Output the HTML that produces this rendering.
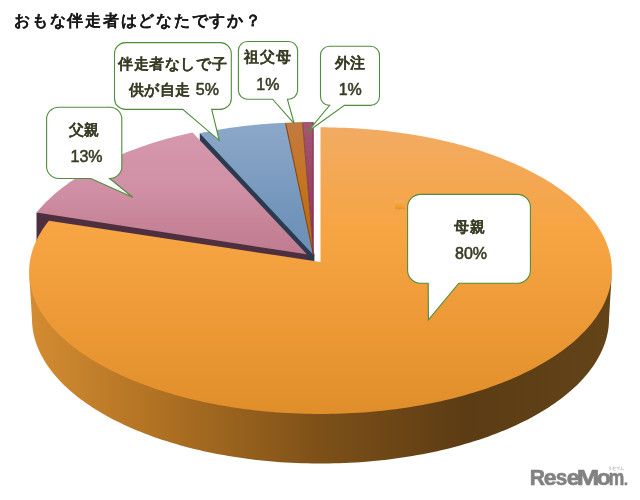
<!DOCTYPE html>
<html><head><meta charset="utf-8"><style>
html,body{margin:0;padding:0;background:#fff;width:640px;height:500px;overflow:hidden}
svg{display:block;will-change:transform}
.lbl{font-family:"Liberation Sans",sans-serif;font-size:15px;font-weight:bold;fill:#393C24;text-anchor:middle;dominant-baseline:central;letter-spacing:0.6px;stroke:#393C24;stroke-width:0.05px}
.num{font-weight:normal;font-size:16px;letter-spacing:0;stroke:#393C24;stroke-width:0.55px}
.title{font-family:"Liberation Sans",sans-serif;font-size:15.5px;font-weight:bold;fill:#1A1A1A;letter-spacing:1.75px;stroke:#1A1A1A;stroke-width:0.1px}
.logo{font-family:"Liberation Sans",sans-serif;font-size:22px;font-weight:bold;fill:#828282;stroke:#828282;stroke-width:0.6px}
.kana{font-family:"Liberation Sans",sans-serif;font-size:5px;fill:#888}
</style></head><body>
<svg width="640" height="500" viewBox="0 0 640 500">
<defs>
<linearGradient id="gOrTop" x1="0" y1="128" x2="0" y2="414" gradientUnits="userSpaceOnUse">
<stop offset="0" stop-color="#F1AB62"/><stop offset="0.37" stop-color="#F7A442"/><stop offset="0.95" stop-color="#E2902C"/><stop offset="1" stop-color="#E08E2B"/></linearGradient>
<linearGradient id="gOrSide" x1="29" y1="0" x2="612" y2="0" gradientUnits="userSpaceOnUse">
<stop offset="0" stop-color="#D48C32"/><stop offset="0.233" stop-color="#AE7022"/><stop offset="0.5" stop-color="#7D5018"/><stop offset="0.75" stop-color="#5C3C14"/><stop offset="1" stop-color="#634318"/></linearGradient>
<linearGradient id="gPk" x1="0" y1="130" x2="0" y2="255" gradientUnits="userSpaceOnUse">
<stop offset="0" stop-color="#D598AC"/><stop offset="0.48" stop-color="#D08FA5"/><stop offset="0.8" stop-color="#C58296"/><stop offset="1" stop-color="#BF7A90"/></linearGradient>
<linearGradient id="gBl" x1="0" y1="122" x2="0" y2="255" gradientUnits="userSpaceOnUse">
<stop offset="0" stop-color="#8BA7C9"/><stop offset="0.135" stop-color="#88A4C6"/><stop offset="0.73" stop-color="#7194BA"/><stop offset="1" stop-color="#6B8FB6"/></linearGradient>
<linearGradient id="gBr" x1="0" y1="122" x2="0" y2="255" gradientUnits="userSpaceOnUse">
<stop offset="0" stop-color="#C27A40"/><stop offset="0.4" stop-color="#C67524"/><stop offset="1" stop-color="#BA690A"/></linearGradient>
<linearGradient id="gPu" x1="0" y1="122" x2="0" y2="255" gradientUnits="userSpaceOnUse">
<stop offset="0" stop-color="#A45772"/><stop offset="1" stop-color="#8E2F5A"/></linearGradient>
<linearGradient id="gMini" x1="0" y1="0" x2="0" y2="1"><stop offset="0" stop-color="#F2AE68"/><stop offset="0.5" stop-color="#F7A334"/><stop offset="1" stop-color="#E6922A"/></linearGradient>
</defs>
<text x="14" y="26" class="title">おもな伴走者はどなたですか？</text>
<path d="M314.50,254.00 L202.88,134.56 L199.73,133.27 L199.73,176.82 L313.50,301.20 Z" fill="#2B3B4F"/>
<path d="M306.80,252.80 L40.55,211.73 L36.50,212.60 L36.50,258.80 L306.80,300.50 Z" fill="#4E2F40"/>
<path d="M313.50,255.00 L199.73,133.27 L204.30,132.34 L208.90,131.46 L213.53,130.61 L218.18,129.80 L222.86,129.03 L227.57,128.30 L232.30,127.61 L237.05,126.96 L241.82,126.35 L246.61,125.77 L251.41,125.24 L256.24,124.75 L261.07,124.29 L265.93,123.88 L270.79,123.51 L275.67,123.18 L280.55,122.89 L285.45,122.63 Z" fill="url(#gBl)"/>
<path d="M313.50,255.00 L285.45,122.63 L291.14,122.39 L296.84,122.21 L302.55,122.07 Z" fill="url(#gBr)"/>
<path d="M313.50,255.00 L302.55,122.07 L308.02,122.00 L313.50,121.97 Z" fill="url(#gPu)"/>
<path d="M285.58,123.25 L313.50,255.00" stroke="#7E4512" stroke-width="1.1" fill="none"/>
<path d="M302.60,122.70 L313.50,255.00" stroke="#7A3A2E" stroke-width="0.8" fill="none"/>
<path d="M313.10,122.47 L313.10,255.00" stroke="#86284C" stroke-width="0.9" fill="none"/>
<path d="M306.80,254.30 L36.50,212.60 L38.39,210.31 L40.36,208.03 L42.40,205.78 L44.51,203.54 L46.70,201.33 L48.96,199.13 L51.30,196.96 L53.70,194.80 L56.18,192.67 L58.72,190.57 L61.34,188.48 L64.02,186.42 L66.77,184.38 L69.58,182.37 L72.46,180.39 L75.40,178.42 L78.41,176.49 L81.47,174.58 L84.60,172.70 L87.79,170.84 L91.03,169.02 L94.34,167.22 L97.70,165.45 L101.11,163.71 L104.58,161.99 L108.11,160.31 L111.69,158.66 L115.32,157.04 L118.99,155.45 L122.72,153.89 L126.50,152.36 L130.32,150.86 L134.20,149.39 L138.11,147.96 L142.07,146.56 L146.07,145.19 L150.12,143.86 L154.20,142.56 L158.32,141.29 L162.49,140.06 L166.69,138.86 L170.92,137.70 L175.19,136.57 L179.50,135.47 L183.83,134.41 L188.20,133.39 L192.60,132.40 Z" fill="url(#gPk)"/>
<path d="M611.93,270.64 L611.21,278.18 L610.81,280.69 L610.32,283.20 L609.73,285.71 L609.06,288.21 L608.29,290.72 L607.44,293.21 L606.49,295.70 L605.45,298.19 L604.33,300.67 L603.11,303.14 L601.80,305.60 L600.40,308.06 L598.91,310.50 L597.33,312.93 L595.67,315.35 L593.91,317.76 L592.06,320.16 L590.13,322.54 L588.10,324.90 L585.99,327.25 L583.79,329.58 L581.51,331.90 L579.14,334.19 L576.68,336.47 L574.14,338.73 L571.51,340.96 L568.80,343.18 L566.00,345.37 L563.12,347.54 L560.16,349.69 L557.12,351.81 L554.00,353.90 L550.80,355.97 L547.52,358.01 L544.17,360.02 L540.73,362.01 L537.22,363.96 L533.64,365.89 L529.99,367.78 L526.26,369.64 L522.46,371.47 L518.59,373.27 L514.65,375.03 L510.64,376.76 L506.57,378.45 L502.43,380.11 L498.23,381.73 L493.96,383.31 L489.64,384.86 L485.25,386.36 L480.81,387.83 L476.31,389.26 L471.75,390.65 L467.14,392.00 L462.48,393.30 L457.77,394.57 L453.01,395.79 L448.20,396.97 L443.35,398.11 L438.45,399.20 L433.51,400.25 L428.53,401.25 L423.51,402.21 L418.45,403.13 L413.36,403.99 L408.23,404.81 L403.08,405.59 L397.89,406.32 L392.68,407.00 L387.43,407.63 L382.17,408.22 L376.88,408.76 L371.57,409.25 L366.25,409.69 L360.91,410.08 L355.55,410.42 L350.18,410.72 L344.80,410.96 L339.41,411.16 L334.01,411.31 L328.61,411.41 L323.20,411.46 L317.80,411.46 L312.39,411.41 L306.99,411.31 L301.59,411.16 L296.20,410.96 L290.82,410.72 L285.45,410.42 L280.09,410.08 L274.75,409.69 L269.43,409.25 L264.12,408.76 L258.83,408.22 L253.57,407.63 L248.32,407.00 L243.11,406.32 L237.92,405.59 L232.77,404.81 L227.64,403.99 L222.55,403.13 L217.49,402.21 L212.47,401.25 L207.49,400.25 L202.55,399.20 L197.65,398.11 L192.80,396.97 L187.99,395.79 L183.23,394.57 L178.52,393.30 L173.86,392.00 L169.25,390.65 L164.69,389.26 L160.19,387.83 L155.75,386.36 L151.36,384.86 L147.04,383.31 L142.77,381.73 L138.57,380.11 L134.43,378.45 L130.36,376.76 L126.35,375.03 L122.41,373.27 L118.54,371.47 L114.74,369.64 L111.01,367.78 L107.36,365.89 L103.78,363.96 L100.27,362.01 L96.83,360.02 L93.48,358.01 L90.20,355.97 L87.00,353.90 L83.88,351.81 L80.84,349.69 L77.88,347.54 L75.00,345.37 L72.20,343.18 L69.49,340.96 L66.86,338.73 L64.32,336.47 L61.86,334.19 L59.49,331.90 L57.21,329.58 L55.01,327.25 L52.90,324.90 L50.87,322.54 L48.94,320.16 L47.09,317.76 L45.33,315.35 L43.67,312.93 L42.09,310.50 L40.60,308.06 L39.20,305.60 L37.89,303.14 L36.67,300.67 L35.55,298.19 L34.51,295.70 L33.56,293.21 L32.71,290.72 L31.94,288.21 L31.27,285.71 L30.68,283.20 L30.19,280.69 L29.79,278.18 L29.07,271.96 L31.98,318.73 L32.03,321.27 L32.16,323.80 L32.38,326.34 L32.69,328.88 L33.09,331.41 L33.58,333.95 L34.16,336.48 L34.83,339.01 L35.59,341.54 L36.43,344.06 L37.37,346.58 L38.40,349.09 L39.51,351.60 L40.72,354.09 L42.02,356.58 L43.40,359.06 L44.87,361.53 L46.44,363.99 L48.09,366.43 L49.83,368.86 L51.66,371.28 L53.57,373.69 L55.58,376.08 L57.67,378.45 L59.84,380.81 L62.11,383.14 L64.45,385.46 L66.89,387.76 L69.40,390.04 L72.01,392.30 L74.69,394.54 L77.46,396.76 L80.31,398.95 L83.24,401.11 L86.25,403.26 L89.34,405.37 L92.51,407.46 L95.75,409.52 L99.07,411.56 L102.47,413.56 L105.95,415.54 L109.49,417.48 L113.11,419.39 L116.81,421.27 L120.57,423.12 L124.40,424.94 L128.30,426.72 L132.27,428.46 L136.30,430.17 L140.40,431.85 L144.56,433.48 L148.78,435.08 L153.06,436.65 L157.40,438.17 L161.80,439.65 L166.26,441.09 L170.77,442.50 L175.33,443.86 L179.94,445.18 L184.61,446.46 L189.32,447.69 L194.08,448.88 L198.89,450.03 L203.73,451.14 L208.62,452.20 L213.56,453.21 L218.52,454.18 L223.53,455.10 L228.57,455.98 L233.65,456.81 L238.75,457.59 L243.89,458.33 L249.05,459.01 L254.24,459.65 L259.45,460.25 L264.68,460.79 L269.94,461.28 L275.21,461.73 L280.50,462.13 L285.80,462.47 L291.12,462.77 L296.45,463.02 L301.78,463.22 L307.13,463.37 L312.47,463.47 L317.82,463.52 L323.18,463.52 L328.53,463.47 L333.87,463.37 L339.22,463.22 L344.55,463.02 L349.88,462.77 L355.20,462.47 L360.50,462.13 L365.79,461.73 L371.06,461.28 L376.32,460.79 L381.55,460.25 L386.76,459.65 L391.95,459.01 L397.11,458.33 L402.25,457.59 L407.35,456.81 L412.43,455.98 L417.47,455.10 L422.48,454.18 L427.44,453.21 L432.38,452.20 L437.27,451.14 L442.11,450.03 L446.92,448.88 L451.68,447.69 L456.39,446.46 L461.06,445.18 L465.67,443.86 L470.23,442.50 L474.74,441.09 L479.20,439.65 L483.60,438.17 L487.94,436.65 L492.22,435.08 L496.44,433.48 L500.60,431.85 L504.70,430.17 L508.73,428.46 L512.70,426.72 L516.60,424.94 L520.43,423.12 L524.19,421.27 L527.89,419.39 L531.51,417.48 L535.05,415.54 L538.53,413.56 L541.93,411.56 L545.25,409.52 L548.49,407.46 L551.66,405.37 L554.75,403.26 L557.76,401.11 L560.69,398.95 L563.54,396.76 L566.31,394.54 L568.99,392.30 L571.60,390.04 L574.11,387.76 L576.55,385.46 L578.89,383.14 L581.16,380.81 L583.33,378.45 L585.42,376.08 L587.43,373.69 L589.34,371.28 L591.17,368.86 L592.91,366.43 L594.56,363.99 L596.13,361.53 L597.60,359.06 L598.98,356.58 L600.28,354.09 L601.49,351.60 L602.60,349.09 L603.63,346.58 L604.57,344.06 L605.41,341.54 L606.17,339.01 L606.84,336.48 L607.42,333.95 L607.91,331.41 L608.31,328.88 L608.62,326.34 L608.84,323.80 L608.97,321.27 L609.02,318.73 Z" fill="url(#gOrSide)"/>
<path d="M320.50,262.00 L320.50,127.32 L325.29,127.34 L330.08,127.40 L334.86,127.50 L339.64,127.63 L344.42,127.80 L349.19,128.02 L353.95,128.27 L358.70,128.56 L363.45,128.89 L368.18,129.25 L372.90,129.66 L377.61,130.10 L382.31,130.58 L386.99,131.10 L391.65,131.66 L396.29,132.25 L400.91,132.89 L405.52,133.56 L410.10,134.26 L414.66,135.01 L419.19,135.79 L423.70,136.61 L428.19,137.46 L432.64,138.36 L437.07,139.29 L441.47,140.25 L445.83,141.25 L450.17,142.29 L454.47,143.36 L458.73,144.47 L462.96,145.61 L467.15,146.79 L471.31,148.00 L475.42,149.25 L479.50,150.53 L483.53,151.85 L487.52,153.19 L491.47,154.58 L495.37,155.99 L499.23,157.44 L503.04,158.92 L506.80,160.43 L510.51,161.97 L514.18,163.55 L517.79,165.15 L521.34,166.79 L524.85,168.46 L528.30,170.15 L531.69,171.88 L535.03,173.63 L538.31,175.42 L541.53,177.23 L544.69,179.07 L547.79,180.94 L550.83,182.83 L553.80,184.75 L556.71,186.70 L559.56,188.67 L562.34,190.67 L565.05,192.69 L567.70,194.74 L570.28,196.81 L572.79,198.90 L575.23,201.01 L577.59,203.15 L579.89,205.31 L582.11,207.49 L584.26,209.69 L586.33,211.91 L588.33,214.15 L590.26,216.40 L592.10,218.68 L593.87,220.97 L595.56,223.28 L597.17,225.61 L598.70,227.95 L600.15,230.31 L601.52,232.68 L602.81,235.06 L604.01,237.46 L605.13,239.87 L606.17,242.29 L607.13,244.72 L607.99,247.17 L608.78,249.62 L609.48,252.08 L610.09,254.55 L610.61,257.03 L611.05,259.51 L611.40,262.00 L611.66,264.49 L611.84,266.99 L611.92,269.50 L611.92,272.00 L611.82,274.51 L611.64,277.02 L611.37,279.53 L611.01,282.04 L610.55,284.55 L610.01,287.06 L609.38,289.56 L608.66,292.07 L607.84,294.56 L606.94,297.06 L605.94,299.55 L604.86,302.03 L603.68,304.50 L602.42,306.97 L601.06,309.42 L599.61,311.87 L598.08,314.31 L596.45,316.73 L594.74,319.14 L592.93,321.54 L591.04,323.93 L589.06,326.30 L586.99,328.65 L584.83,330.99 L582.59,333.32 L580.26,335.62 L577.84,337.90 L575.34,340.17 L572.75,342.42 L570.08,344.64 L567.33,346.84 L564.49,349.02 L561.57,351.18 L558.57,353.31 L555.49,355.41 L552.33,357.49 L549.09,359.54 L545.77,361.57 L542.38,363.57 L538.90,365.53 L535.36,367.47 L531.74,369.38 L528.05,371.26 L524.28,373.10 L520.45,374.91 L516.54,376.69 L512.57,378.43 L508.53,380.14 L504.43,381.82 L500.26,383.45 L496.02,385.05 L491.73,386.62 L487.37,388.14 L482.96,389.63 L478.49,391.08 L473.96,392.48 L469.38,393.85 L464.75,395.18 L460.06,396.46 L455.33,397.70 L450.55,398.90 L445.72,400.06 L440.84,401.17 L435.93,402.24 L430.97,403.27 L425.97,404.25 L420.93,405.18 L415.86,406.07 L410.76,406.92 L405.62,407.71 L400.45,408.47 L395.25,409.17 L390.02,409.83 L384.77,410.43 L379.50,411.00 L374.20,411.51 L368.89,411.97 L363.56,412.39 L358.21,412.76 L352.85,413.08 L347.47,413.35 L342.09,413.57 L336.70,413.74 L331.30,413.86 L325.90,413.94 L320.50,413.96 L315.10,413.94 L309.70,413.86 L304.30,413.74 L298.91,413.57 L293.53,413.35 L288.15,413.08 L282.79,412.76 L277.44,412.39 L272.11,411.97 L266.80,411.51 L261.50,411.00 L256.23,410.43 L250.98,409.83 L245.75,409.17 L240.55,408.47 L235.38,407.71 L230.24,406.92 L225.14,406.07 L220.07,405.18 L215.03,404.25 L210.03,403.27 L205.07,402.24 L200.16,401.17 L195.28,400.06 L190.45,398.90 L185.67,397.70 L180.94,396.46 L176.25,395.18 L171.62,393.85 L167.04,392.48 L162.51,391.08 L158.04,389.63 L153.63,388.14 L149.27,386.62 L144.98,385.05 L140.74,383.45 L136.57,381.82 L132.47,380.14 L128.43,378.43 L124.46,376.69 L120.55,374.91 L116.72,373.10 L112.95,371.26 L109.26,369.38 L105.64,367.47 L102.10,365.57 L98.62,363.63 L95.23,361.66 L91.91,359.67 L88.67,357.65 L85.51,355.60 L82.43,353.53 L79.43,351.43 L76.51,349.31 L73.67,347.16 L70.92,344.99 L68.25,342.80 L65.66,340.58 L63.16,338.35 L60.74,336.10 L58.41,333.82 L56.17,331.53 L54.01,329.23 L51.94,326.90 L49.96,324.56 L48.07,322.21 L46.26,319.84 L44.55,317.46 L42.92,315.07 L41.39,312.66 L39.94,310.25 L38.58,307.82 L37.32,305.39 L36.14,302.95 L35.06,300.50 L34.06,298.04 L33.16,295.58 L32.34,293.11 L31.62,290.64 L30.99,288.17 L30.45,285.69 L29.99,283.22 L29.63,280.74 L29.36,278.26 L29.18,275.78 L29.08,273.30 L29.08,270.83 L29.16,268.36 L29.34,265.89 L29.60,263.43 L29.95,260.97 L30.39,258.52 L30.91,256.07 L31.52,253.64 L32.22,251.21 L33.01,248.79 L33.87,246.37 L34.83,243.97 L35.87,241.58 L36.99,239.21 L38.19,236.84 L39.48,234.49 L40.85,232.15 L42.30,229.82 L43.83,227.51 L45.44,225.22 L47.13,222.94 L48.90,220.68 Z" fill="url(#gOrTop)"/>
<rect x="395.1" y="200.4" width="9.6" height="8.9" fill="url(#gMini)"/>
<path d="M58.60,107.20 H109.80 A12,12 0 0 1 121.80,119.20 V166.50 A12,12 0 0 1 109.80,178.50 H109.60 L132.70,197.30 L90.90,178.50 H58.60 A12,12 0 0 1 46.60,166.50 V119.20 A12,12 0 0 1 58.60,107.20 Z" fill="#fff" stroke="#4F8D3B" stroke-width="1.1"/>
<text x="84.3" y="129.5" class="lbl">父親</text>
<text x="86.5" y="156" class="lbl"><tspan class="num">13%</tspan></text>
<path d="M125.50,42.60 H220.30 A11,11 0 0 1 231.30,53.60 V98.40 A11,11 0 0 1 220.30,109.40 H211.70 L219.20,140.30 L182.70,109.40 H125.50 A11,11 0 0 1 114.50,98.40 V53.60 A11,11 0 0 1 125.50,42.60 Z" fill="#fff" stroke="#4F8D3B" stroke-width="1.1"/>
<text x="172.6" y="63.4" class="lbl">伴走者なしで子</text>
<text x="173.8" y="89.2" class="lbl">供が自走 <tspan class="num">5%</tspan></text>
<path d="M247.40,41.50 H288.60 A9,9 0 0 1 297.60,50.50 V90.20 A9,9 0 0 1 288.60,99.20 H287.40 L294.20,123.60 L272.60,99.20 H247.40 A9,9 0 0 1 238.40,90.20 V50.50 A9,9 0 0 1 247.40,41.50 Z" fill="#fff" stroke="#4F8D3B" stroke-width="1.1"/>
<text x="267.8" y="56.2" class="lbl">祖父母</text>
<text x="267.8" y="83.6" class="lbl"><tspan class="num">1%</tspan></text>
<path d="M329.50,46.20 H370.50 A9,9 0 0 1 379.50,55.20 V96.40 A9,9 0 0 1 370.50,105.40 H344.40 L307.60,131.80 L329.60,105.40 H329.50 A9,9 0 0 1 320.50,96.40 V55.20 A9,9 0 0 1 329.50,46.20 Z" fill="#fff" stroke="#4F8D3B" stroke-width="1.1"/>
<text x="350.2" y="62.9" class="lbl">外注</text>
<text x="350.2" y="89.4" class="lbl"><tspan class="num">1%</tspan></text>
<path d="M420.60,194.40 H517.40 A13,13 0 0 1 530.40,207.40 V270.20 A13,13 0 0 1 517.40,283.20 H458.80 L428.40,319.80 L428.20,283.20 H420.60 A13,13 0 0 1 407.60,270.20 V207.40 A13,13 0 0 1 420.60,194.40 Z" fill="#fff" stroke="#4F8D3B" stroke-width="1.1"/>
<text x="469.7" y="226.5" class="lbl">母親</text>
<text x="471" y="252.6" class="lbl"><tspan class="num">80%</tspan></text>
<text y="485" class="logo"><tspan x="529.7" textLength="15.3" lengthAdjust="spacingAndGlyphs">R</tspan><tspan x="543.7" textLength="12.8" lengthAdjust="spacingAndGlyphs">e</tspan><tspan x="555.7" textLength="11.5" lengthAdjust="spacingAndGlyphs">s</tspan><tspan x="566.7" textLength="12.8" lengthAdjust="spacingAndGlyphs">e</tspan><tspan x="576.7" textLength="22.6" lengthAdjust="spacingAndGlyphs">M</tspan><tspan x="596.7" textLength="14" lengthAdjust="spacingAndGlyphs">o</tspan><tspan x="608.7" textLength="15.5" lengthAdjust="spacingAndGlyphs">m</tspan></text>
<rect x="624.6" y="482.4" width="2.6" height="2.8" fill="#828282"/>
<text x="607.5" y="469.8" class="kana" textLength="16" lengthAdjust="spacingAndGlyphs">リセマム</text>
</svg>
</body></html>
